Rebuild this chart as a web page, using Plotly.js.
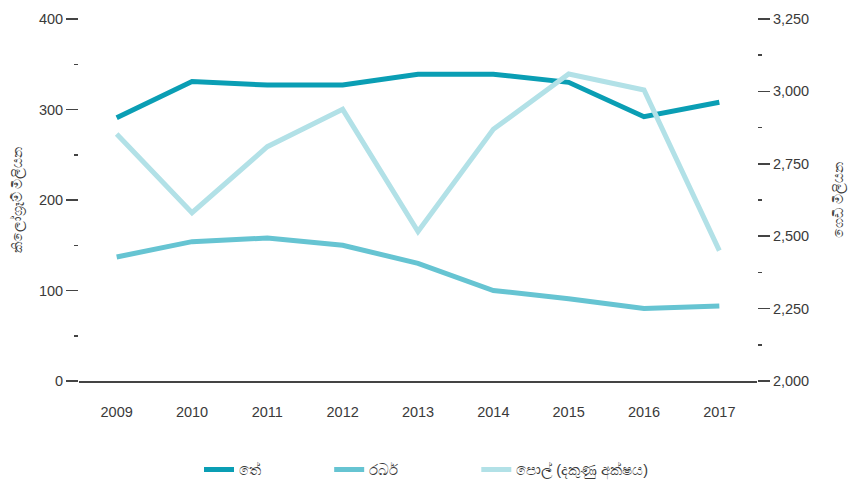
<!DOCTYPE html>
<html>
<head>
<meta charset="utf-8">
<script src="https://cdn.plot.ly/plotly-3.0.1.min.js"></script>
<style>html,body{margin:0;padding:0;background:#fff}#chart{width:851px;height:481px}</style>
</head>
<body>
<div id="chart"></div>
<script>
const years = ['2009','2010','2011','2012','2013','2014','2015','2016','2017'];
const tea = [291, 331, 327, 327, 339, 339, 330, 292, 308];
const rubber = [137, 154, 158, 150, 130, 100, 91, 80, 83];
const coconut = [2853, 2581, 2809, 2938, 2516, 2869, 3060, 3005, 2450];
const names = ['තේ', 'රබර්', 'පොල් (දකුණු අක්ෂය)'];
const leftTitle = 'කිලෝග්‍රෑම් මිලියන';
const rightTitle = 'ගෙඩි මිලියන';

const colors = ['#0a9eb4', '#66c4d2', '#b2e1e7'];
const font = "'Century Gothic', 'Liberation Sans', 'Noto Sans', sans-serif";
const txt = '#3a3a3a';

const traces = [
  {x: years, y: tea, name: names[0], type: 'scatter', mode: 'lines', line: {color: colors[0], width: 5}, yaxis: 'y', legend: 'legend'},
  {x: years, y: rubber, name: names[1], type: 'scatter', mode: 'lines', line: {color: colors[1], width: 5}, yaxis: 'y', legend: 'legend2'},
  {x: years, y: coconut, name: names[2], type: 'scatter', mode: 'lines', line: {color: colors[2], width: 5}, yaxis: 'y2', legend: 'legend3'}
];

function leg(x) {
  return {orientation: 'h', x: x, xanchor: 'left', y: -0.245, yanchor: 'middle',
          font: {size: 14.5, color: txt}, bgcolor: 'rgba(0,0,0,0)'};
}

const layout = {
  width: 851, height: 481,
  margin: {l: 79, r: 94, t: 19, b: 100, autoexpand: false},
  paper_bgcolor: '#fff', plot_bgcolor: '#fff',
  font: {family: font, size: 14.5, color: txt},
  showlegend: true,
  legend: leg(0.177),
  legend2: leg(0.369),
  legend3: leg(0.586),
  xaxis: {type: 'category', range: [-0.5, 8.5], showgrid: false, zeroline: false,
          showline: true, linecolor: '#444', linewidth: 1.5, ticks: '', ticklabelstandoff: 17,
          tickfont: {size: 14.5, color: txt}},
  yaxis: {range: [0, 400], dtick: 100, showgrid: false, zeroline: false, showline: false,
          ticks: 'outside', ticklen: 12, tickwidth: 1.5, tickcolor: '#444',
          minor: {dtick: 50, ticks: 'outside', ticklen: 4, tickwidth: 1.5, tickcolor: '#444'},
          tickfont: {size: 14.5, color: txt},
          title: {text: leftTitle, standoff: 12, font: {size: 14, color: txt}}},
  yaxis2: {range: [2000, 3250], dtick: 250, overlaying: 'y', side: 'right', showgrid: false,
           zeroline: false, showline: false, tickformat: ',d',
           ticks: 'outside', ticklen: 12, tickwidth: 1.5, tickcolor: '#444',
           minor: {dtick: 125, ticks: 'outside', ticklen: 4, tickwidth: 1.5, tickcolor: '#444'},
           tickfont: {size: 14.5, color: txt},
           title: {text: rightTitle, standoff: 25, font: {size: 14, color: txt}}}
};

Plotly.newPlot('chart', traces, layout, {displayModeBar: false, staticPlot: true});
</script>
</body>
</html>
